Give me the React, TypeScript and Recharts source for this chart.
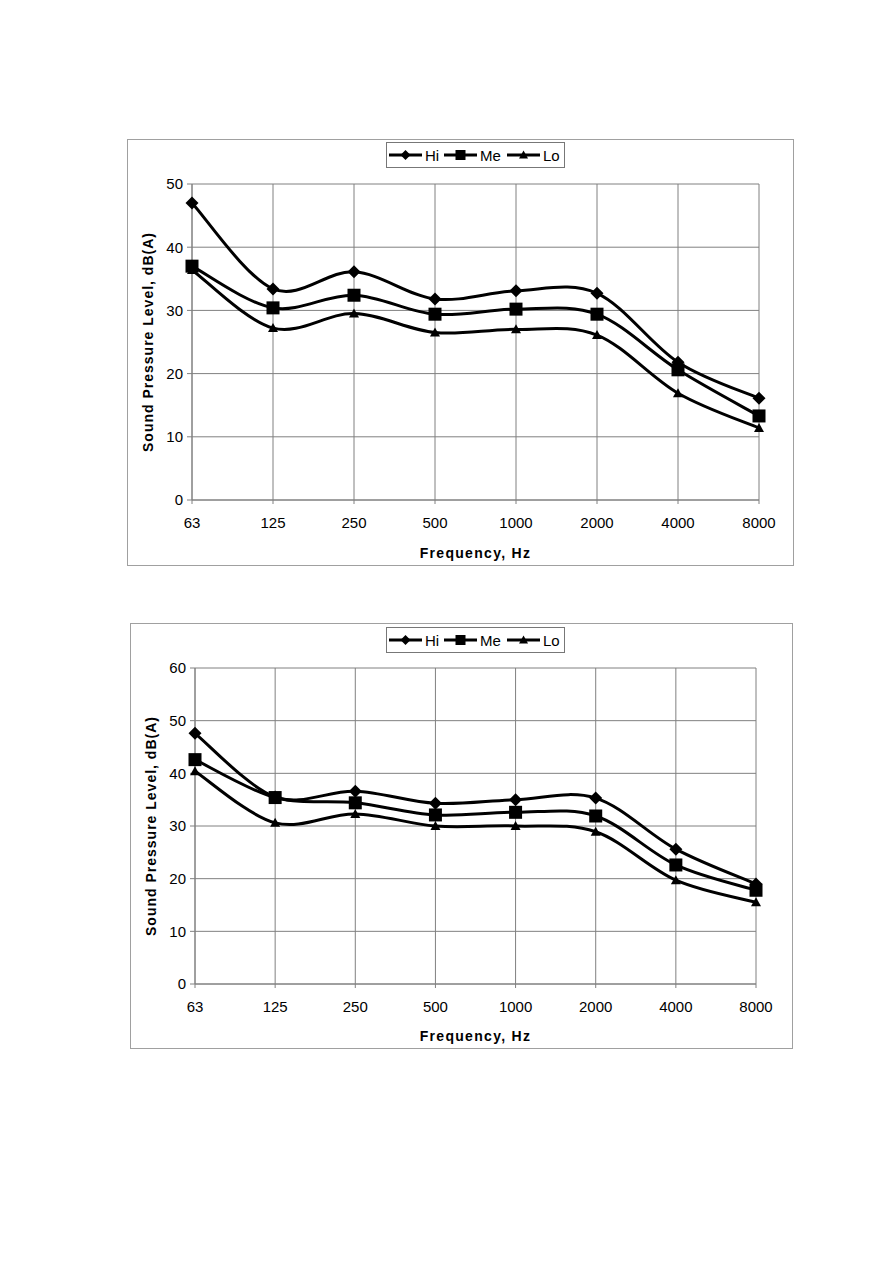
import { LineChart, Line, XAxis, YAxis, CartesianGrid } from 'recharts';

const FREQS = ['63', '125', '250', '500', '1000', '2000', '4000', '8000'];

// upper chart
const HI_1 = [47.0, 33.4, 36.1, 31.8, 33.1, 32.7, 21.8, 16.1];
const ME_1 = [37.0, 30.4, 32.4, 29.4, 30.2, 29.4, 20.6, 13.3];
const LO_1 = [36.4, 27.2, 29.5, 26.5, 27.0, 26.1, 16.9, 11.4];
const Y_TICKS_1 = [0, 10, 20, 30, 40, 50];

// lower chart
const HI_2 = [47.6, 35.5, 36.6, 34.3, 35.0, 35.3, 25.6, 19.0];
const ME_2 = [42.6, 35.4, 34.4, 32.1, 32.6, 31.9, 22.6, 17.8];
const LO_2 = [40.4, 30.6, 32.3, 30.0, 30.0, 28.9, 19.7, 15.5];
const Y_TICKS_2 = [0, 10, 20, 30, 40, 50, 60];

const FONT = '"Liberation Sans", Arial, sans-serif';
const GRID = '#808080';

// Excel-like smoothed line (Catmull-Rom through the points)
function excelSmooth(context: any) {
  let pts: [number, number][] = [];
  return {
    areaStart() {},
    areaEnd() {},
    lineStart() {
      pts = [];
    },
    lineEnd() {
      const n = pts.length;
      if (!n) return;
      context.moveTo(pts[0][0], pts[0][1]);
      for (let i = 0; i < n - 1; i++) {
        const p0 = pts[Math.max(i - 1, 0)];
        const p1 = pts[i];
        const p2 = pts[i + 1];
        const p3 = pts[Math.min(i + 2, n - 1)];
        context.bezierCurveTo(
          p1[0] + (p2[0] - p0[0]) / 6,
          p1[1] + (p2[1] - p0[1]) / 6,
          p2[0] - (p3[0] - p1[0]) / 6,
          p2[1] - (p3[1] - p1[1]) / 6,
          p2[0],
          p2[1]
        );
      }
    },
    point(x: number, y: number) {
      pts.push([x, y]);
    },
  };
}

function markerShape(kind: string, cx: number, cy: number, s: number, key?: any) {
  if (kind === 'diamond')
    return <polygon key={key} points={`${cx},${cy - s} ${cx + s},${cy} ${cx},${cy + s} ${cx - s},${cy}`} fill="#000" />;
  if (kind === 'square')
    return <rect key={key} x={cx - s} y={cy - s} width={2 * s} height={2 * s} fill="#000" />;
  return (
    <polygon key={key} points={`${cx},${cy - s} ${cx + s},${cy + s * 0.8} ${cx - s},${cy + s * 0.8}`} fill="#000" />
  );
}

const dot = (kind: string, s: number) => (p: any) => {
  if (p.cx == null || p.cy == null) return <g key={p.index} />;
  return markerShape(kind, p.cx, p.cy, s, p.index);
};

function LegendBox({ left, top }: { left: number; top: number }) {
  const items = [
    { name: 'Hi', kind: 'diamond', x: 3, s: 5 },
    { name: 'Me', kind: 'square', x: 58, s: 5 },
    { name: 'Lo', kind: 'triangle', x: 121, s: 4.5 },
  ];
  return (
    <svg width={180} height={27} style={{ position: 'absolute', left, top }}>
      <rect x={0.5} y={0.5} width={178} height={25} fill="#fff" stroke="#777" />
      {items.map((it) => (
        <g key={it.name}>
          <line x1={it.x} x2={it.x + 33} y1={13} y2={13} stroke="#000" strokeWidth={3} />
          {markerShape(it.kind, it.x + 16.5, 13, it.s)}
          <text x={it.x + 36} y={18.5} fontFamily={FONT} fontSize={15} fill="#000">
            {it.name}
          </text>
        </g>
      ))}
    </svg>
  );
}

interface PanelProps {
  left: number;
  top: number;
  width: number;
  height: number;
  right: number;
  xHeight: number;
  hi: number[];
  me: number[];
  lo: number[];
  yTicks: number[];
}

function Panel({ left, top, width, height, right, xHeight, hi, me, lo, yTicks }: PanelProps) {
  const data = FREQS.map((f, i) => ({ freq: f, hi: hi[i], me: me[i], lo: lo[i] }));
  const tick = { fill: '#000', fontSize: 15, fontFamily: FONT };
  return (
    <div
      style={{
        position: 'absolute',
        left,
        top,
        width,
        height,
        border: '1px solid #a0a0a0',
        boxSizing: 'border-box',
        background: '#fff',
      }}
    >
      <LineChart
        width={width - 2}
        height={height - 2}
        data={data}
        margin={{ top: 44, right: right, bottom: 7, left: 0 }}
      >
        <CartesianGrid stroke={GRID} />
        <XAxis
          dataKey="freq"
          scale="point"
          interval={0}
          tick={tick}
          tickSize={4}
          tickMargin={13}
          height={xHeight}
          stroke={GRID}
          label={{
            value: 'Frequency, Hz',
            position: 'insideBottom',
            offset: 0,
            style: { fontFamily: FONT, fontSize: 14, fontWeight: 'bold', letterSpacing: 1.3, fill: '#000' },
          }}
        />
        <YAxis
          type="number"
          domain={[0, yTicks[yTicks.length - 1]]}
          ticks={yTicks}
          interval={0}
          tick={tick}
          tickSize={5}
          tickMargin={4}
          width={64}
          stroke={GRID}
          label={{
            value: 'Sound Pressure Level, dB(A)',
            angle: -90,
            position: 'insideLeft',
            offset: 20,
            style: {
              textAnchor: 'middle',
              fontFamily: FONT,
              fontSize: 14,
              fontWeight: 'bold',
              letterSpacing: 1,
              fill: '#000',
            },
          }}
        />
        <Line dataKey="hi" type={excelSmooth as any} stroke="#000" strokeWidth={3} dot={dot('diamond', 6.5)} activeDot={false} isAnimationActive={false} />
        <Line dataKey="me" type={excelSmooth as any} stroke="#000" strokeWidth={3} dot={dot('square', 6.5)} activeDot={false} isAnimationActive={false} />
        <Line dataKey="lo" type={excelSmooth as any} stroke="#000" strokeWidth={3} dot={dot('triangle', 5)} activeDot={false} isAnimationActive={false} />
      </LineChart>
    </div>
  );
}

export default function App() {
  return (
    <div style={{ position: 'absolute', left: 0, top: 0, width: 893, height: 1263 }}>
      <Panel left={127} top={139} width={667} height={427} right={34} xHeight={58} hi={HI_1} me={ME_1} lo={LO_1} yTicks={Y_TICKS_1} />
      <LegendBox left={386} top={142} />
      <Panel left={130} top={623} width={663} height={426} right={36} xHeight={57} hi={HI_2} me={ME_2} lo={LO_2} yTicks={Y_TICKS_2} />
      <LegendBox left={386} top={627} />
    </div>
  );
}
